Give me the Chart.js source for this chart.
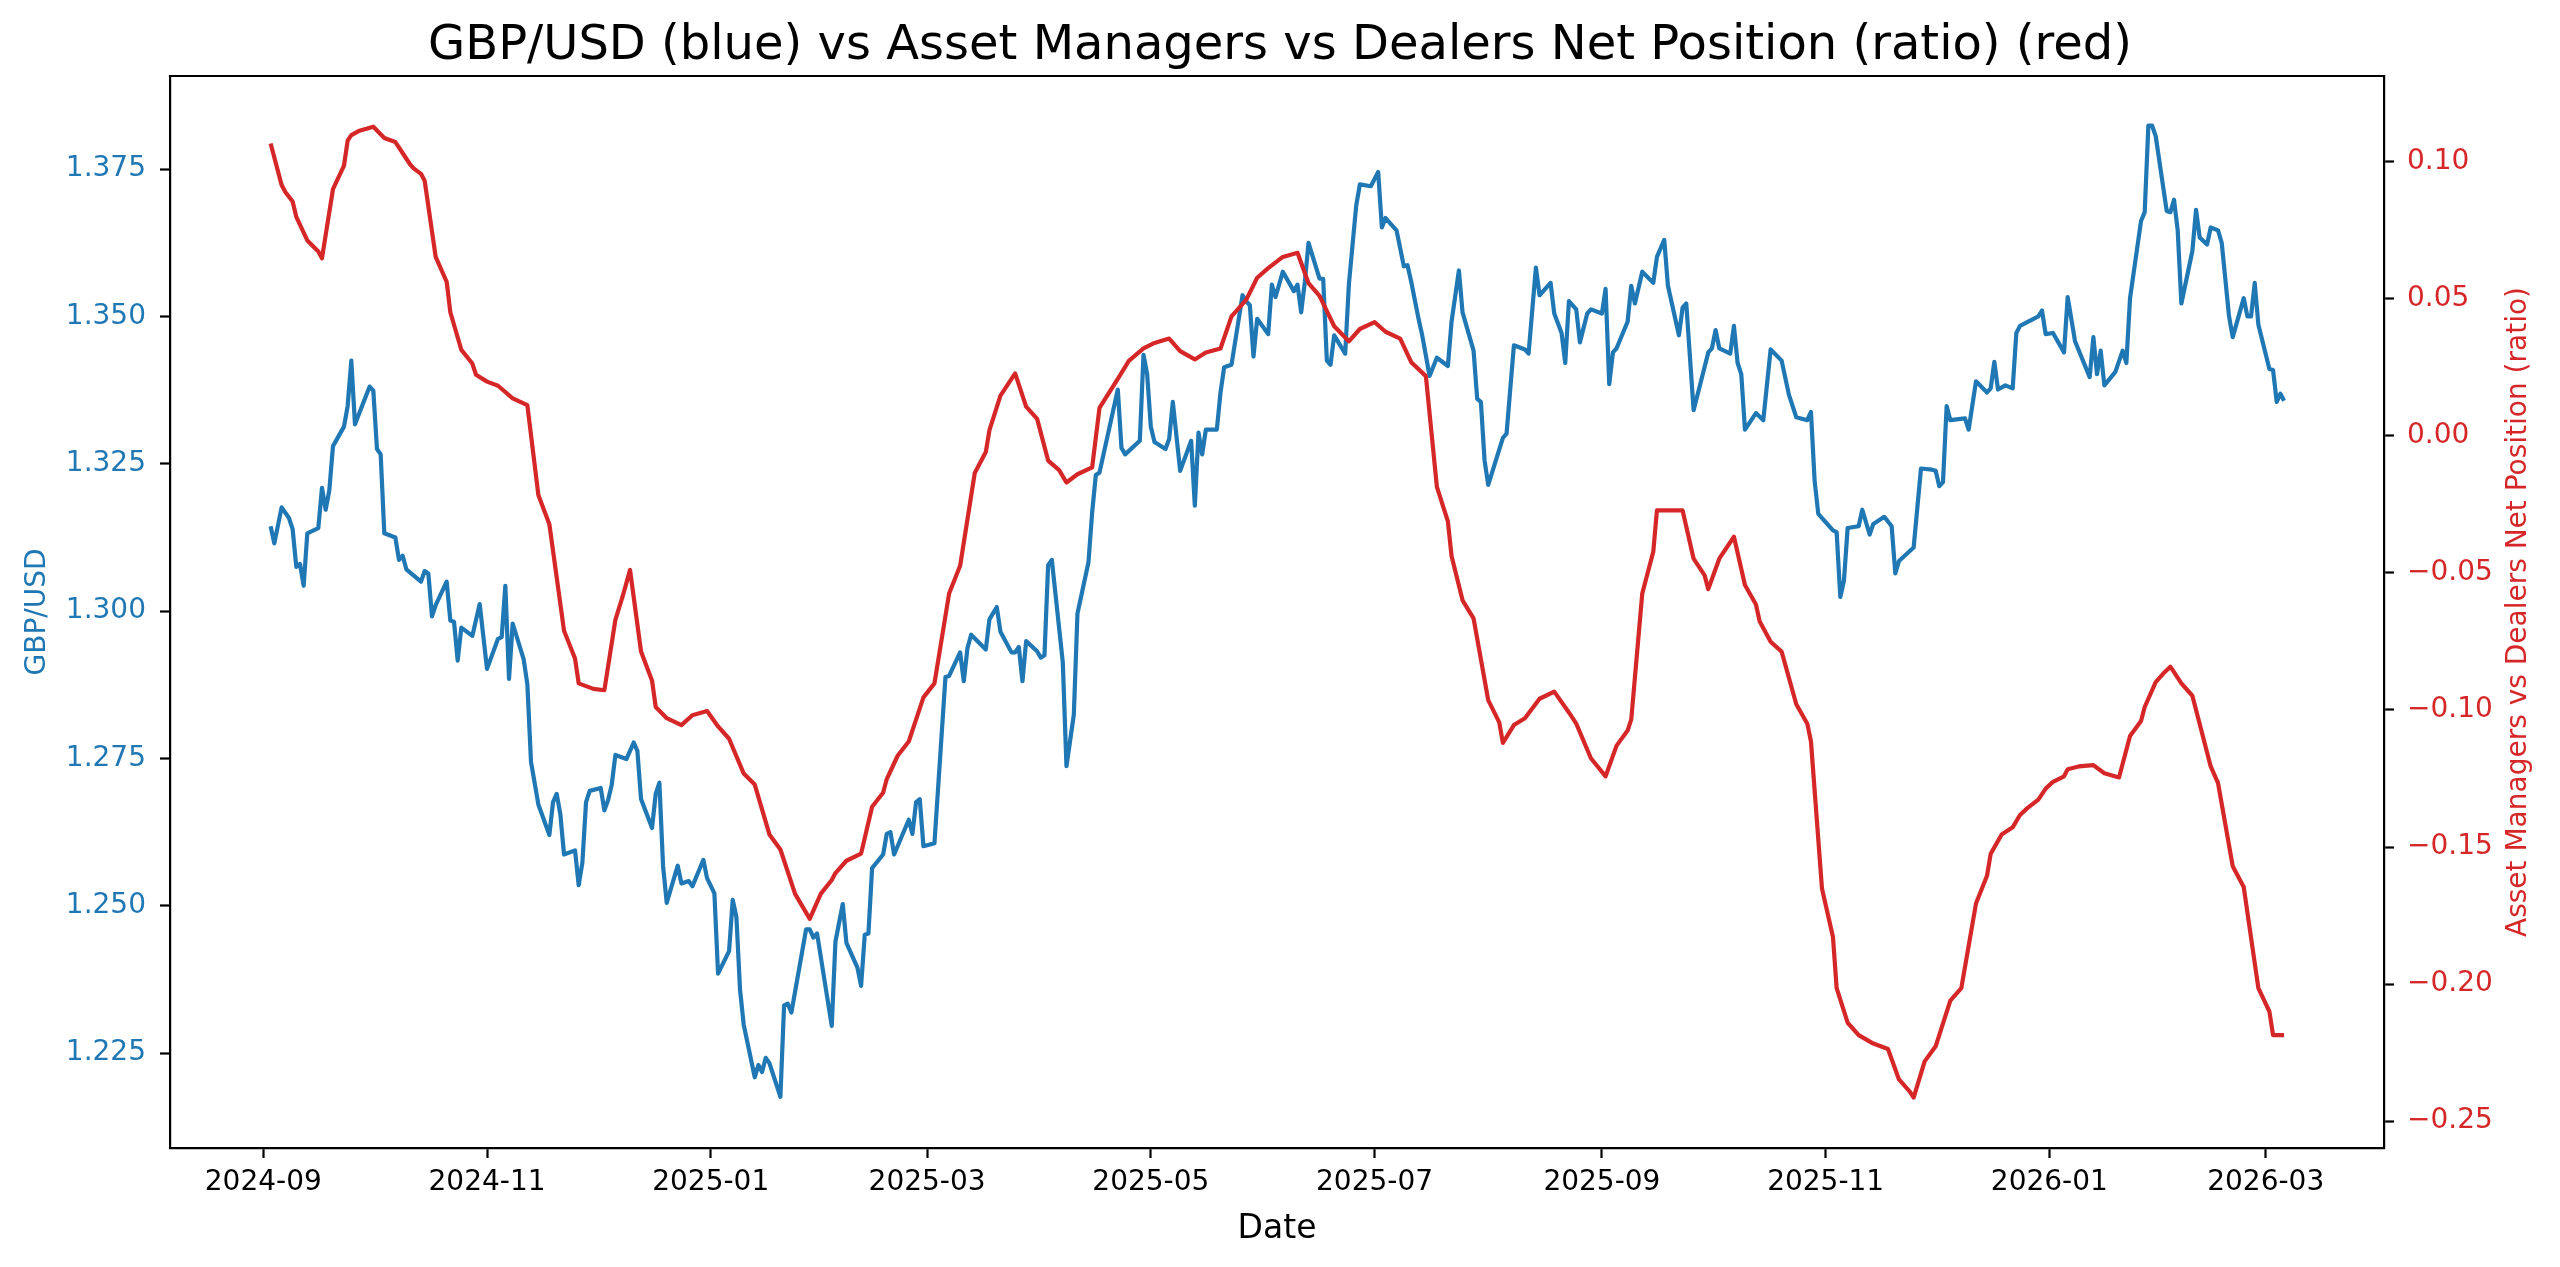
<!DOCTYPE html>
<html lang="en">

<head>
    <meta charset="UTF-8" />
    <title>GBP/USD vs Asset Managers vs Dealers Net Position</title>
    <script src="https://cdn.jsdelivr.net/npm/chart.js"></script>
    <style>
        html, body { margin: 0; padding: 0; background: #fff; }
        canvas { display: block; }
    </style>
</head>

<body>
    <canvas id="chart" width="2560" height="1267"></canvas>

    <script>
        // GBP/USD closes
        const gbpDates = [
            '2024-09-03', '2024-09-04', '2024-09-06', '2024-09-08', '2024-09-09', '2024-09-10', '2024-09-11', '2024-09-12', '2024-09-13', '2024-09-16',
            '2024-09-17', '2024-09-18', '2024-09-19', '2024-09-20', '2024-09-23', '2024-09-24', '2024-09-25', '2024-09-26', '2024-09-30', '2024-10-01',
            '2024-10-02', '2024-10-03', '2024-10-04', '2024-10-07', '2024-10-08', '2024-10-09', '2024-10-10', '2024-10-14', '2024-10-15', '2024-10-16',
            '2024-10-17', '2024-10-18', '2024-10-21', '2024-10-22', '2024-10-23', '2024-10-24', '2024-10-25', '2024-10-28', '2024-10-30', '2024-11-01',
            '2024-11-04', '2024-11-05', '2024-11-06', '2024-11-07', '2024-11-08', '2024-11-11', '2024-11-12', '2024-11-13', '2024-11-15', '2024-11-18',
            '2024-11-19', '2024-11-20', '2024-11-21', '2024-11-22', '2024-11-25', '2024-11-26', '2024-11-27', '2024-11-28', '2024-11-29', '2024-12-02',
            '2024-12-03', '2024-12-04', '2024-12-05', '2024-12-06', '2024-12-09', '2024-12-11', '2024-12-12', '2024-12-13', '2024-12-16', '2024-12-17',
            '2024-12-18', '2024-12-19', '2024-12-20', '2024-12-23', '2024-12-24', '2024-12-26', '2024-12-27', '2024-12-30', '2024-12-31', '2025-01-02',
            '2025-01-03', '2025-01-06', '2025-01-07', '2025-01-08', '2025-01-09', '2025-01-10', '2025-01-13', '2025-01-14', '2025-01-15', '2025-01-16',
            '2025-01-17', '2025-01-20', '2025-01-21', '2025-01-22', '2025-01-23', '2025-01-27', '2025-01-28', '2025-01-29', '2025-01-30', '2025-02-03',
            '2025-02-04', '2025-02-06', '2025-02-07', '2025-02-10', '2025-02-11', '2025-02-12', '2025-02-13', '2025-02-14', '2025-02-17', '2025-02-18',
            '2025-02-19', '2025-02-20', '2025-02-24', '2025-02-25', '2025-02-26', '2025-02-27', '2025-02-28', '2025-03-03', '2025-03-06', '2025-03-07',
            '2025-03-10', '2025-03-11', '2025-03-12', '2025-03-13', '2025-03-17', '2025-03-18', '2025-03-20', '2025-03-21', '2025-03-24', '2025-03-25',
            '2025-03-26', '2025-03-27', '2025-03-28', '2025-03-31', '2025-04-01', '2025-04-02', '2025-04-03', '2025-04-04', '2025-04-07', '2025-04-08',
            '2025-04-10', '2025-04-11', '2025-04-14', '2025-04-15', '2025-04-16', '2025-04-17', '2025-04-22', '2025-04-23', '2025-04-24', '2025-04-28',
            '2025-04-29', '2025-04-30', '2025-05-01', '2025-05-02', '2025-05-05', '2025-05-06', '2025-05-07', '2025-05-09', '2025-05-12', '2025-05-13',
            '2025-05-14', '2025-05-15', '2025-05-16', '2025-05-19', '2025-05-20', '2025-05-21', '2025-05-23', '2025-05-26', '2025-05-27', '2025-05-28',
            '2025-05-29', '2025-05-30', '2025-06-02', '2025-06-03', '2025-06-04', '2025-06-06', '2025-06-09', '2025-06-10', '2025-06-11', '2025-06-12',
            '2025-06-13', '2025-06-16', '2025-06-17', '2025-06-18', '2025-06-19', '2025-06-20', '2025-06-23', '2025-06-24', '2025-06-26', '2025-06-27',
            '2025-06-30', '2025-07-02', '2025-07-03', '2025-07-04', '2025-07-07', '2025-07-09', '2025-07-10', '2025-07-11', '2025-07-13', '2025-07-14',
            '2025-07-16', '2025-07-18', '2025-07-21', '2025-07-22', '2025-07-24', '2025-07-25', '2025-07-28', '2025-07-29', '2025-07-30', '2025-07-31',
            '2025-08-01', '2025-08-05', '2025-08-06', '2025-08-08', '2025-08-11', '2025-08-12', '2025-08-14', '2025-08-15', '2025-08-18', '2025-08-19',
            '2025-08-21', '2025-08-22', '2025-08-23', '2025-08-25', '2025-08-26', '2025-08-28', '2025-08-29', '2025-09-01', '2025-09-02', '2025-09-03',
            '2025-09-04', '2025-09-05', '2025-09-08', '2025-09-09', '2025-09-10', '2025-09-12', '2025-09-15', '2025-09-16', '2025-09-18', '2025-09-19',
            '2025-09-22', '2025-09-23', '2025-09-24', '2025-09-26', '2025-09-30', '2025-10-01', '2025-10-02', '2025-10-03', '2025-10-06', '2025-10-07',
            '2025-10-08', '2025-10-09', '2025-10-10', '2025-10-13', '2025-10-15', '2025-10-17', '2025-10-20', '2025-10-22', '2025-10-24', '2025-10-27',
            '2025-10-28', '2025-10-29', '2025-10-30', '2025-11-03', '2025-11-04', '2025-11-05', '2025-11-06', '2025-11-07', '2025-11-10', '2025-11-11',
            '2025-11-13', '2025-11-14', '2025-11-17', '2025-11-19', '2025-11-20', '2025-11-21', '2025-11-25', '2025-11-27', '2025-11-30', '2025-12-01',
            '2025-12-02', '2025-12-03', '2025-12-04', '2025-12-05', '2025-12-09', '2025-12-10', '2025-12-12', '2025-12-15', '2025-12-16', '2025-12-17',
            '2025-12-18', '2025-12-20', '2025-12-22', '2025-12-23', '2025-12-24', '2025-12-29', '2025-12-30', '2025-12-31', '2026-01-02', '2026-01-05',
            '2026-01-06', '2026-01-08', '2026-01-12', '2026-01-13', '2026-01-14', '2026-01-15', '2026-01-16', '2026-01-19', '2026-01-21', '2026-01-22',
            '2026-01-23', '2026-01-26', '2026-01-27', '2026-01-28', '2026-01-29', '2026-01-30', '2026-02-02', '2026-02-03', '2026-02-04', '2026-02-05',
            '2026-02-06', '2026-02-09', '2026-02-10', '2026-02-11', '2026-02-13', '2026-02-14', '2026-02-16', '2026-02-17', '2026-02-19', '2026-02-20',
            '2026-02-23', '2026-02-24', '2026-02-25', '2026-02-26', '2026-02-27', '2026-03-02', '2026-03-03', '2026-03-04', '2026-03-05', '2026-03-06'
        ];
        const gbpValues = [
            1.3144, 1.3115, 1.3176, 1.3158, 1.3139, 1.3075, 1.3080, 1.3043, 1.3132, 1.3141,
            1.3209, 1.3172, 1.3205, 1.3280, 1.3313, 1.3348, 1.3425, 1.3317, 1.3381, 1.3374,
            1.3275, 1.3266, 1.3132, 1.3125, 1.3087, 1.3094, 1.3071, 1.3050, 1.3068, 1.3064,
            1.2991, 1.3010, 1.3050, 1.2984, 1.2982, 1.2916, 1.2972, 1.2958, 1.3012, 1.2902,
            1.2953, 1.2956, 1.3043, 1.2885, 1.2979, 1.2918, 1.2876, 1.2744, 1.2672, 1.2620,
            1.2676, 1.2690, 1.2655, 1.2587, 1.2594, 1.2535, 1.2573, 1.2676, 1.2695, 1.2700,
            1.2662, 1.2679, 1.2705, 1.2756, 1.2749, 1.2777, 1.2763, 1.2681, 1.2632, 1.2690,
            1.2709, 1.2568, 1.2505, 1.2568, 1.2538, 1.2542, 1.2533, 1.2578, 1.2547, 1.2521,
            1.2385, 1.2423, 1.2510, 1.2481, 1.2357, 1.2298, 1.2209, 1.2230, 1.2218, 1.2242,
            1.2233, 1.2176, 1.2331, 1.2334, 1.2319, 1.2460, 1.2460, 1.2446, 1.2453, 1.2296,
            1.2439, 1.2503, 1.2437, 1.2395, 1.2364, 1.2451, 1.2453, 1.2564, 1.2587, 1.2622,
            1.2625, 1.2587, 1.2646, 1.2622, 1.2676, 1.2681, 1.2601, 1.2606, 1.2888, 1.2890,
            1.2930, 1.2881, 1.2937, 1.2960, 1.2935, 1.2986, 1.3007, 1.2965, 1.2930, 1.2930,
            1.2939, 1.2881, 1.2949, 1.2932, 1.2921, 1.2925, 1.3078, 1.3087, 1.2913, 1.2737,
            1.2824, 1.2996, 1.3083, 1.3167, 1.3231, 1.3235, 1.3376, 1.3277, 1.3266, 1.3289,
            1.3435, 1.3402, 1.3313, 1.3287, 1.3275, 1.3292, 1.3355, 1.3238, 1.3289, 1.3179,
            1.3303, 1.3266, 1.3308, 1.3308, 1.3371, 1.3414, 1.3418, 1.3536, 1.3526, 1.3519,
            1.3432, 1.3496, 1.3470, 1.3554, 1.3533, 1.3576, 1.3543, 1.3554, 1.3507, 1.3559,
            1.3625, 1.3564, 1.3564, 1.3425, 1.3418, 1.3468, 1.3437, 1.3554, 1.3688, 1.3724,
            1.3721, 1.3745, 1.3651, 1.3667, 1.3646, 1.3585, 1.3587, 1.3559, 1.3496, 1.3468,
            1.3399, 1.3430, 1.3416, 1.3491, 1.3578, 1.3507, 1.3442, 1.3360, 1.3355, 1.3256,
            1.3214, 1.3294, 1.3301, 1.3451, 1.3444, 1.3437, 1.3583, 1.3536, 1.3557, 1.3505,
            1.3472, 1.3421, 1.3526, 1.3512, 1.3456, 1.3505, 1.3512, 1.3505, 1.3547, 1.3385,
            1.3439, 1.3446, 1.3491, 1.3552, 1.3522, 1.3576, 1.3557, 1.3601, 1.3630, 1.3552,
            1.3468, 1.3515, 1.3522, 1.3341, 1.3439, 1.3446, 1.3477, 1.3446, 1.3437, 1.3484,
            1.3421, 1.3402, 1.3308, 1.3336, 1.3324, 1.3444, 1.3425, 1.3367, 1.3329, 1.3324,
            1.3338, 1.3221, 1.3165, 1.3137, 1.3134, 1.3024, 1.3052, 1.3141, 1.3144, 1.3172,
            1.3130, 1.3148, 1.3160, 1.3144, 1.3064, 1.3085, 1.3108, 1.3242, 1.3240, 1.3238,
            1.3212, 1.3219, 1.3348, 1.3324, 1.3327, 1.3308, 1.3390, 1.3371, 1.3378, 1.3423,
            1.3376, 1.3383, 1.3378, 1.3472, 1.3484, 1.3500, 1.3510, 1.3470, 1.3472, 1.3439,
            1.3533, 1.3458, 1.3397, 1.3465, 1.3402, 1.3442, 1.3383, 1.3406, 1.3442, 1.3421,
            1.3531, 1.3662, 1.3677, 1.3824, 1.3824, 1.3806, 1.3679, 1.3677, 1.3698, 1.3646,
            1.3522, 1.3611, 1.3681, 1.3634, 1.3622, 1.3651, 1.3646, 1.3625, 1.3500, 1.3465,
            1.3531, 1.3500, 1.3500, 1.3557, 1.3486, 1.3411, 1.3409, 1.3355, 1.3369, 1.3357
        ];

        // Asset managers vs dealers net position ratio
        const ratioDates = [
            '2024-09-03', '2024-09-06', '2024-09-07', '2024-09-09', '2024-09-10', '2024-09-13', '2024-09-16', '2024-09-17', '2024-09-20', '2024-09-23',
            '2024-09-24', '2024-09-25', '2024-09-27', '2024-10-01', '2024-10-04', '2024-10-07', '2024-10-08', '2024-10-11', '2024-10-12', '2024-10-14',
            '2024-10-15', '2024-10-18', '2024-10-21', '2024-10-22', '2024-10-25', '2024-10-28', '2024-10-29', '2024-11-01', '2024-11-04', '2024-11-08',
            '2024-11-12', '2024-11-15', '2024-11-18', '2024-11-22', '2024-11-25', '2024-11-26', '2024-11-30', '2024-12-03', '2024-12-06', '2024-12-08',
            '2024-12-10', '2024-12-13', '2024-12-16', '2024-12-17', '2024-12-20', '2024-12-24', '2024-12-27', '2024-12-31', '2025-01-03', '2025-01-06',
            '2025-01-10', '2025-01-13', '2025-01-17', '2025-01-20', '2025-01-24', '2025-01-28', '2025-01-31', '2025-02-03', '2025-02-04', '2025-02-07',
            '2025-02-11', '2025-02-14', '2025-02-17', '2025-02-18', '2025-02-21', '2025-02-24', '2025-02-28', '2025-03-03', '2025-03-07', '2025-03-10',
            '2025-03-14', '2025-03-17', '2025-03-18', '2025-03-21', '2025-03-25', '2025-03-28', '2025-03-31', '2025-04-03', '2025-04-06', '2025-04-08',
            '2025-04-11', '2025-04-15', '2025-04-17', '2025-04-22', '2025-04-25', '2025-04-29', '2025-05-02', '2025-05-06', '2025-05-09', '2025-05-13',
            '2025-05-16', '2025-05-20', '2025-05-23', '2025-05-27', '2025-05-30', '2025-06-02', '2025-06-06', '2025-06-10', '2025-06-13', '2025-06-16',
            '2025-06-20', '2025-06-24', '2025-06-27', '2025-07-01', '2025-07-04', '2025-07-08', '2025-07-11', '2025-07-15', '2025-07-18', '2025-07-21',
            '2025-07-22', '2025-07-25', '2025-07-28', '2025-08-01', '2025-08-04', '2025-08-05', '2025-08-08', '2025-08-11', '2025-08-15', '2025-08-19',
            '2025-08-23', '2025-08-25', '2025-08-29', '2025-09-02', '2025-09-05', '2025-09-08', '2025-09-09', '2025-09-12', '2025-09-15', '2025-09-16',
            '2025-09-23', '2025-09-26', '2025-09-29', '2025-09-30', '2025-10-03', '2025-10-07', '2025-10-10', '2025-10-13', '2025-10-14', '2025-10-17',
            '2025-10-20', '2025-10-24', '2025-10-27', '2025-10-28', '2025-10-31', '2025-11-03', '2025-11-04', '2025-11-07', '2025-11-10', '2025-11-14',
            '2025-11-18', '2025-11-21', '2025-11-24', '2025-11-25', '2025-11-28', '2025-12-01', '2025-12-05', '2025-12-08', '2025-12-12', '2025-12-15',
            '2025-12-16', '2025-12-19', '2025-12-22', '2025-12-24', '2025-12-26', '2025-12-29', '2025-12-31', '2026-01-02', '2026-01-05', '2026-01-06',
            '2026-01-09', '2026-01-13', '2026-01-16', '2026-01-20', '2026-01-23', '2026-01-26', '2026-01-27', '2026-01-30', '2026-02-01', '2026-02-03',
            '2026-02-06', '2026-02-09', '2026-02-14', '2026-02-16', '2026-02-20', '2026-02-23', '2026-02-27', '2026-03-02', '2026-03-03', '2026-03-06'
        ];
        const ratioValues = [
            0.1067, 0.0915, 0.0890, 0.0855, 0.0799, 0.0713, 0.0673, 0.0648, 0.0900, 0.0986,
            0.1077, 0.1097, 0.1112, 0.1128, 0.1087, 0.1072, 0.1052, 0.0991, 0.0976, 0.0956,
            0.0931, 0.0653, 0.0562, 0.0451, 0.0314, 0.0264, 0.0223, 0.0198, 0.0183, 0.0137,
            0.0112, -0.0216, -0.0322, -0.0711, -0.0812, -0.0903, -0.0923, -0.0928, -0.0671, -0.0585,
            -0.0489, -0.0787, -0.0893, -0.0989, -0.1030, -0.1055, -0.1019, -0.1004, -0.1060, -0.1105,
            -0.1232, -0.1272, -0.1454, -0.1509, -0.1671, -0.1762, -0.1671, -0.1620, -0.1595, -0.1550,
            -0.1524, -0.1353, -0.1302, -0.1252, -0.1166, -0.1115, -0.0954, -0.0903, -0.0575, -0.0474,
            -0.0135, -0.0059, 0.0021, 0.0147, 0.0228, 0.0107, 0.0062, -0.0090, -0.0125, -0.0170,
            -0.0140, -0.0115, 0.0102, 0.0208, 0.0274, 0.0319, 0.0339, 0.0355, 0.0309, 0.0279,
            0.0304, 0.0319, 0.0436, 0.0496, 0.0577, 0.0612, 0.0653, 0.0668, 0.0557, 0.0511,
            0.0400, 0.0345, 0.0390, 0.0415, 0.0380, 0.0355, 0.0269, 0.0218, -0.0186, -0.0312,
            -0.0438, -0.0600, -0.0666, -0.0964, -0.1045, -0.1120, -0.1055, -0.1030, -0.0959, -0.0933,
            -0.1009, -0.1050, -0.1176, -0.1242, -0.1130, -0.1075, -0.1034, -0.0575, -0.0423, -0.0272,
            -0.0272, -0.0448, -0.0509, -0.0559, -0.0448, -0.0368, -0.0544, -0.0615, -0.0676, -0.0751,
            -0.0787, -0.0979, -0.1050, -0.1115, -0.1651, -0.1828, -0.2015, -0.2141, -0.2186, -0.2217,
            -0.2237, -0.2348, -0.2393, -0.2414, -0.2282, -0.2227, -0.2060, -0.2015, -0.1706, -0.1605,
            -0.1525, -0.1454, -0.1428, -0.1383, -0.1358, -0.1327, -0.1287, -0.1262, -0.1242, -0.1216,
            -0.1206, -0.1201, -0.1231, -0.1246, -0.1095, -0.1040, -0.0989, -0.0898, -0.0868, -0.0842,
            -0.0903, -0.0948, -0.1206, -0.1267, -0.1570, -0.1646, -0.2015, -0.2100, -0.2186, -0.2186
        ];

        const xTickLabels = ['2024-09', '2024-11', '2025-01', '2025-03', '2025-05', '2025-07', '2025-09', '2025-11', '2026-01', '2026-03'];
        const gbpTicks = [1.225, 1.250, 1.275, 1.300, 1.325, 1.350, 1.375];
        const ratioTicks = [-0.25, -0.20, -0.15, -0.10, -0.05, 0.00, 0.05, 0.10];

        const BLUE = '#1f77b4';
        const RED = '#d62728';
        const FONT = "'DejaVu Sans', sans-serif";
        const DAY = 86400000;
        const x0 = Date.parse('2024-09-01');

        Chart.defaults.font.family = FONT;
        Chart.defaults.color = '#000';

        const toPoints = (dates, values) => dates.map((d, i) => ({ x: Date.parse(d), y: values[i] }));

        const tickGrid = { drawOnChartArea: false, tickLength: 10, tickWidth: 2.2, tickColor: '#000' };
        const spine = { color: '#000', width: 2.2 };

        // top spine + right label reading bottom-to-top, as matplotlib does
        const frame = {
            id: 'frame',
            afterDraw(chart) {
                const { ctx, chartArea: a } = chart;
                ctx.save();
                ctx.strokeStyle = '#000';
                ctx.lineWidth = 2.2;
                ctx.beginPath();
                ctx.moveTo(a.left - 1.1, a.top);
                ctx.lineTo(a.right + 1.1, a.top);
                ctx.stroke();
                ctx.fillStyle = RED;
                ctx.font = '28px ' + FONT;
                ctx.textAlign = 'center';
                ctx.textBaseline = 'middle';
                ctx.translate(2519, (a.top + a.bottom) / 2);
                ctx.rotate(-Math.PI / 2);
                ctx.fillText('Asset Managers vs Dealers Net Position (ratio)', 0, 0);
                ctx.restore();
            }
        };

        new Chart(document.getElementById('chart'), {
            type: 'line',
            data: {
                datasets: [
                    {
                        label: 'Asset Managers vs Dealers Net Position (ratio)',
                        data: toPoints(ratioDates, ratioValues),
                        yAxisID: 'y1',
                        borderColor: RED,
                        borderWidth: 4.2,
                        pointRadius: 0,
                        borderJoinStyle: 'round',
                        fill: false
                    },
                    {
                        label: 'GBP/USD',
                        data: toPoints(gbpDates, gbpValues),
                        yAxisID: 'y',
                        borderColor: BLUE,
                        borderWidth: 4.2,
                        pointRadius: 0,
                        borderJoinStyle: 'round',
                        fill: false
                    }
                ]
            },
            options: {
                responsive: false,
                animation: false,
                devicePixelRatio: 1,
                layout: { padding: 0 },
                plugins: {
                    legend: { display: false },
                    tooltip: { enabled: false },
                    title: {
                        display: true,
                        text: 'GBP/USD (blue) vs Asset Managers vs Dealers Net Position (ratio) (red)',
                        color: '#000',
                        font: { size: 48, weight: 'normal', lineHeight: 1 },
                        padding: { top: 23, bottom: 5 }
                    }
                },
                scales: {
                    x: {
                        type: 'linear',
                        min: x0 - 25.44 * DAY,
                        max: x0 + 578.25 * DAY,
                        afterFit: s => { s.height = 119; },
                        afterBuildTicks: s => { s.ticks = xTickLabels.map(t => ({ value: Date.parse(t + '-01') })); },
                        ticks: {
                            callback: (v, i) => xTickLabels[i],
                            color: '#000',
                            font: { size: 28 },
                            padding: 8,
                            maxRotation: 0,
                            autoSkip: false
                        },
                        grid: tickGrid,
                        border: spine,
                        title: { display: true, text: 'Date', color: '#000', font: { size: 33 }, padding: { top: 0, bottom: 18 } }
                    },
                    y: {
                        position: 'left',
                        min: 1.2089,
                        max: 1.3908,
                        afterFit: s => { s.width = 170; },
                        afterBuildTicks: s => { s.ticks = gbpTicks.map(v => ({ value: v })); },
                        ticks: { color: BLUE, font: { size: 28 }, padding: 14, callback: v => v.toFixed(3) },
                        grid: tickGrid,
                        border: spine,
                        title: { display: true, text: 'GBP/USD', color: BLUE, font: { size: 28 }, padding: { top: 21, bottom: 0 } }
                    },
                    y1: {
                        position: 'right',
                        min: -0.2598,
                        max: 0.1313,
                        afterFit: s => { s.width = 176; },
                        afterBuildTicks: s => { s.ticks = ratioTicks.map(v => ({ value: v })); },
                        ticks: { color: RED, font: { size: 28 }, padding: 13, callback: v => v.toFixed(2).replace('-', '\u2212') },
                        grid: tickGrid,
                        border: spine
                    }
                }
            },
            plugins: [frame]
        });
    </script>

</body>

</html>
